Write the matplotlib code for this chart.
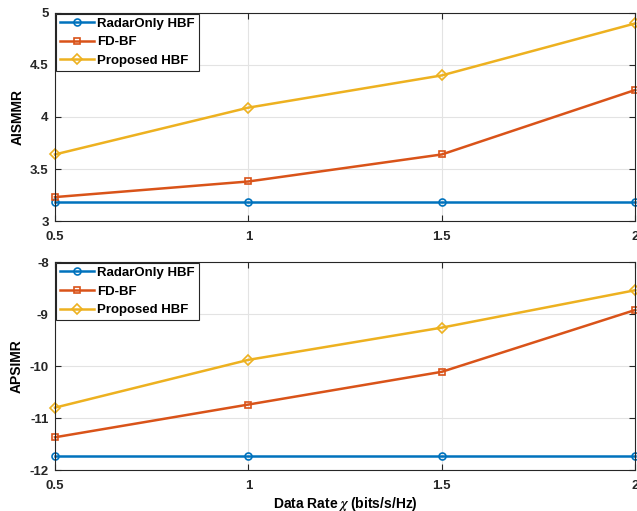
import matplotlib.pyplot as plt

# data rate (bits/s/Hz)
rate = [0.5, 1.0, 1.5, 2.0]

# AISMMR
aismmr_radar = [3.18, 3.18, 3.18, 3.18]
aismmr_fd = [3.23, 3.38, 3.64, 4.26]
aismmr_prop = [3.64, 4.09, 4.40, 4.90]

# APSIMR
apsimr_radar = [-11.73, -11.73, -11.73, -11.73]
apsimr_fd = [-11.37, -10.74, -10.11, -8.92]
apsimr_prop = [-10.80, -9.88, -9.26, -8.54]

labels = ['RadarOnly HBF', 'FD-BF', 'Proposed HBF']
colors = ['#0072BD', '#D95319', '#EDB120']
markers = ['o', 's', 'D']

plt.rcParams['font.family'] = 'Liberation Sans'
plt.rcParams['font.weight'] = 'bold'
plt.rcParams['mathtext.fontset'] = 'stix'

fig = plt.figure(figsize=(6.37, 5.11), dpi=100)
ax1 = fig.add_axes([0.0863, 0.5675, 0.911, 0.4071])
ax2 = fig.add_axes([0.0863, 0.0802, 0.911, 0.4068])


def style(ax, ylim, yticks, ylabel):
    ax.set_xlim(0.5, 2)
    ax.set_ylim(*ylim)
    ax.set_xticks([0.5, 1, 1.5, 2])
    ax.set_xticklabels(['0.5', '1', '1.5', '2'])
    ax.set_yticks(yticks)
    ax.set_yticklabels([('%g' % v) for v in yticks])
    ax.grid(True, color='#e3e3e3', linewidth=0.8)
    ax.set_axisbelow(True)
    ax.tick_params(direction='in', top=True, right=True, length=4,
                   labelsize=9.5, colors='#262626', width=0.8)
    ax.tick_params(axis='x', pad=7)
    ax.tick_params(axis='y', pad=4.5)
    for s in ax.spines.values():
        s.set_color('#262626')
        s.set_linewidth(0.8)
    ax.set_ylabel(ylabel, fontsize=10, fontweight='bold', labelpad=4)
    leg = ax.legend(loc='upper left', fontsize=9.5, fancybox=False,
                    edgecolor='#262626', framealpha=1, borderpad=0.3,
                    handlelength=2.6, handletextpad=0.25, labelspacing=0.48,
                    borderaxespad=0.05)
    leg.get_frame().set_linewidth(0.8)


for ax, series in [(ax1, [aismmr_radar, aismmr_fd, aismmr_prop]),
                   (ax2, [apsimr_radar, apsimr_fd, apsimr_prop])]:
    for y, lab, c, m in zip(series, labels, colors, markers):
        ax.plot(rate, y, color=c, marker=m, markersize=5,
                markerfacecolor='none', markeredgewidth=1.2, linewidth=1.8,
                label=lab, clip_on=False)

style(ax1, (3, 5), [3, 3.5, 4, 4.5, 5], 'AISMMR')
style(ax2, (-12, -8), [-12, -11, -10, -9, -8], 'APSIMR')
ax2.set_xlabel(r'Data Rate $\chi$ (bits/s/Hz)', fontsize=10, fontweight='bold',
               labelpad=2)

fig.savefig('out.png', dpi=100)
